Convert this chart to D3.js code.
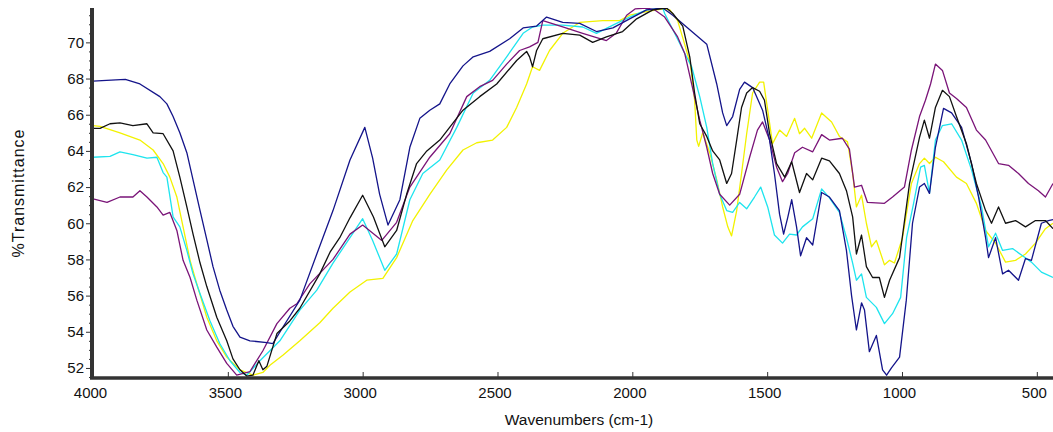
<!DOCTYPE html>
<html>
<head>
<meta charset="utf-8">
<script src="https://cdn.jsdelivr.net/npm/d3@7"></script>
<style>
  body { margin: 0; background: #fff; }
  svg text { font-family: "Liberation Sans", Arial, sans-serif; fill: #111; }
</style>
</head>
<body>
<svg id="chart" width="1053" height="432"></svg>
<script>
// tick labels
var xTicks = [4000, 3500, 3000, 2500, 2000, 1500, 1000, 500]
var yTicks = [52, 54, 56, 58, 60, 62, 64, 66, 68, 70]

// navy spectrum
var navyWn = [4000, 3950, 3880, 3826, 3752, 3726, 3703, 3678, 3652, 3629, 3603, 3578, 3555, 3530, 3504, 3481, 3455, 3418, 3355, 3333, 3296, 3233, 3170, 3110, 3047, 2992, 2963, 2937, 2906, 2862, 2825, 2788, 2751, 2714, 2677, 2628, 2590, 2529, 2455, 2405, 2355, 2318, 2258, 2195, 2133, 2072, 2010, 1947, 1887, 1850, 1787, 1724, 1687, 1665, 1650, 1628, 1602, 1584, 1554, 1517, 1491, 1473, 1454, 1439, 1424, 1409, 1391, 1376, 1354, 1331, 1298, 1269, 1232, 1206, 1187, 1169, 1150, 1139, 1121, 1095, 1072, 1057, 1039, 1009, 984, 961, 935, 917, 898, 876, 846, 816, 779, 742, 716, 690, 679, 653, 627, 605, 568, 542, 520, 483, 457, 440]
var navyT = [67.86, 67.9, 67.95, 67.7, 67.0, 66.6, 65.9, 65.0, 63.9, 62.4, 60.7, 59.1, 57.6, 56.3, 55.2, 54.3, 53.7, 53.5, 53.4, 53.35, 54.25, 55.75, 58.3, 60.7, 63.5, 65.3, 63.6, 61.6, 59.9, 61.3, 64.2, 65.8, 66.25, 66.6, 67.7, 68.7, 69.2, 69.5, 70.2, 70.8, 70.9, 71.4, 71.1, 71.05, 70.6, 70.8, 71.3, 71.8, 71.9, 71.5, 70.7, 69.9, 67.7, 66.1, 65.4, 65.9, 67.4, 67.8, 67.5, 66.25, 64.6, 62.75, 60.5, 59.4, 60.3, 61.3, 59.8, 58.2, 59.2, 58.8, 61.7, 61.45, 60.7, 58.5, 56.0, 54.1, 55.6, 55.2, 52.9, 53.8, 51.9, 51.6, 52.0, 52.6, 55.75, 60.0, 62.0, 62.2, 61.65, 64.2, 66.35, 66.1, 65.3, 63.3, 61.45, 59.2, 58.1, 59.2, 57.2, 57.4, 56.85, 58.05, 57.95, 60.0, 60.15, 60.2]

// black spectrum
var blackWn = [4000, 3974, 3937, 3900, 3852, 3800, 3777, 3740, 3703, 3678, 3652, 3629, 3603, 3578, 3541, 3504, 3481, 3455, 3430, 3407, 3385, 3370, 3355, 3318, 3270, 3233, 3159, 3121, 3085, 3047, 3000, 2960, 2918, 2874, 2837, 2800, 2762, 2714, 2628, 2566, 2503, 2429, 2392, 2381, 2370, 2355, 2332, 2258, 2195, 2147, 2096, 2036, 1984, 1924, 1873, 1850, 1813, 1787, 1769, 1750, 1724, 1702, 1676, 1650, 1632, 1613, 1595, 1576, 1554, 1528, 1510, 1491, 1465, 1435, 1409, 1380, 1354, 1331, 1298, 1269, 1232, 1206, 1183, 1169, 1150, 1132, 1109, 1084, 1065, 1046, 1009, 972, 935, 917, 898, 876, 850, 824, 798, 761, 724, 690, 668, 642, 616, 579, 542, 505, 468, 440]
var blackT = [65.25, 65.25, 65.5, 65.55, 65.4, 65.5, 65.0, 64.95, 64.0, 62.55, 60.9, 59.4, 57.8, 56.5, 54.8, 53.5, 52.5, 51.9, 51.55, 51.6, 52.4, 51.9, 52.1, 53.9, 54.6, 55.3, 57.2, 58.4, 59.2, 60.3, 61.55, 60.35, 58.7, 59.6, 61.6, 63.3, 64.0, 64.6, 66.25, 67.0, 67.7, 69.0, 69.5, 69.2, 68.65, 69.55, 70.2, 70.5, 70.4, 70.0, 70.3, 70.6, 71.3, 71.8, 71.9, 71.6, 70.9, 69.2, 67.2, 65.5, 64.8, 64.0, 63.5, 62.2, 62.75, 64.6, 66.4, 67.2, 67.5, 67.3, 66.8, 64.95, 63.3, 62.55, 63.4, 61.7, 62.75, 62.4, 63.6, 63.45, 62.75, 61.8, 60.35, 58.3, 59.35, 57.6, 57.0, 57.0, 55.9, 56.85, 58.1, 62.2, 64.75, 65.7, 64.7, 66.4, 67.35, 67.0, 65.9, 64.4, 62.2, 60.7, 60.0, 60.9, 60.0, 60.15, 59.8, 60.15, 60.15, 59.7]

// purple spectrum
var purpleWn = [4000, 3948, 3900, 3852, 3826, 3800, 3763, 3740, 3715, 3689, 3666, 3640, 3615, 3578, 3541, 3504, 3467, 3418, 3370, 3318, 3270, 3244, 3196, 3110, 3047, 3000, 2929, 2874, 2825, 2751, 2677, 2614, 2566, 2518, 2466, 2418, 2381, 2350, 2332, 2258, 2184, 2096, 2060, 2021, 1990, 1947, 1918, 1880, 1832, 1806, 1780, 1750, 1724, 1702, 1676, 1639, 1602, 1565, 1536, 1517, 1491, 1465, 1443, 1424, 1398, 1369, 1331, 1298, 1269, 1221, 1195, 1176, 1150, 1128, 1065, 1035, 991, 965, 935, 913, 894, 876, 850, 824, 798, 761, 724, 690, 642, 605, 568, 531, 494, 468, 440]
var purpleT = [61.35, 61.15, 61.45, 61.45, 61.8, 61.45, 60.9, 60.45, 60.6, 59.6, 57.95, 57.0, 55.75, 54.1, 53.15, 52.25, 51.6, 51.8, 52.95, 54.45, 55.3, 55.55, 56.65, 58.0, 59.4, 59.9, 59.05, 60.05, 62.0, 63.65, 64.95, 67.0, 67.55, 67.9, 68.8, 69.55, 69.75, 70.0, 71.2, 70.85, 70.5, 70.1, 70.5, 71.5, 71.85, 71.9, 71.8, 71.4, 70.3, 69.4, 67.7, 65.7, 64.2, 62.75, 61.6, 61.0, 61.6, 63.65, 65.15, 65.6, 64.6, 63.1, 62.3, 62.75, 63.9, 64.2, 63.95, 64.9, 64.6, 64.7, 64.1, 62.0, 62.1, 61.15, 61.1, 61.45, 62.0, 64.05, 65.9, 66.8, 67.7, 68.8, 68.45, 67.2, 66.9, 66.4, 65.15, 64.6, 63.3, 63.2, 62.75, 62.2, 61.8, 61.45, 62.2]

// cyan spectrum
var cyanWn = [4000, 3937, 3900, 3852, 3800, 3763, 3740, 3726, 3703, 3678, 3652, 3629, 3603, 3566, 3530, 3492, 3455, 3430, 3381, 3307, 3233, 3170, 3110, 3047, 3000, 2963, 2918, 2874, 2825, 2777, 2714, 2651, 2590, 2529, 2466, 2405, 2370, 2332, 2258, 2184, 2133, 2072, 2010, 1947, 1887, 1880, 1843, 1806, 1780, 1750, 1724, 1702, 1676, 1650, 1628, 1602, 1576, 1547, 1524, 1498, 1473, 1443, 1417, 1391, 1369, 1331, 1298, 1269, 1232, 1206, 1183, 1169, 1150, 1132, 1095, 1065, 1035, 1005, 983, 957, 931, 917, 898, 876, 850, 816, 779, 742, 705, 679, 653, 627, 590, 553, 520, 483, 440]
var cyanT = [63.65, 63.7, 63.95, 63.8, 63.6, 63.65, 62.8, 62.55, 60.35, 59.8, 58.5, 57.2, 56.1, 54.6, 53.35, 52.4, 51.75, 51.6, 52.4, 53.5, 55.2, 56.3, 57.8, 59.2, 60.25, 59.05, 57.4, 58.3, 61.3, 62.75, 63.5, 65.3, 67.2, 67.9, 69.2, 70.5, 70.85, 70.95, 70.95, 70.85, 70.5, 70.95, 71.4, 71.8, 71.9, 71.6, 70.5, 69.4, 68.65, 67.0, 65.3, 63.3, 61.6, 60.7, 60.6, 61.15, 60.8, 61.45, 62.0, 60.9, 59.35, 58.9, 59.4, 59.35, 59.8, 60.25, 61.9, 61.4, 60.6, 59.2, 57.8, 56.85, 57.2, 55.9, 55.35, 54.45, 55.0, 55.9, 59.2, 61.1, 63.1, 63.2, 61.65, 64.6, 65.4, 65.5, 64.6, 62.95, 60.9, 58.7, 59.45, 58.5, 58.6, 58.2, 57.85, 57.3, 57.0]

// yellow spectrum
var yellowWn = [4000, 3974, 3900, 3826, 3777, 3740, 3715, 3689, 3666, 3640, 3615, 3578, 3541, 3504, 3455, 3407, 3370, 3344, 3296, 3233, 3159, 3110, 3047, 2985, 2925, 2874, 2814, 2751, 2688, 2628, 2577, 2518, 2466, 2429, 2392, 2370, 2344, 2307, 2258, 2195, 2110, 2047, 2010, 1947, 1887, 1861, 1832, 1806, 1784, 1769, 1761, 1754, 1739, 1713, 1687, 1665, 1646, 1632, 1613, 1595, 1576, 1554, 1528, 1513, 1498, 1480, 1454, 1428, 1398, 1380, 1361, 1335, 1298, 1261, 1232, 1202, 1183, 1169, 1150, 1132, 1113, 1095, 1065, 1046, 1028, 998, 965, 935, 917, 898, 876, 846, 798, 761, 724, 690, 653, 616, 579, 542, 505, 468, 440]
var yellowT = [65.4, 65.35, 65.0, 64.6, 64.05, 63.3, 62.55, 61.45, 59.8, 57.95, 56.65, 54.8, 53.5, 52.6, 51.9, 51.6, 51.75, 52.15, 52.7, 53.5, 54.5, 55.3, 56.2, 56.85, 56.95, 58.1, 60.15, 61.6, 62.95, 64.05, 64.45, 64.6, 65.3, 66.4, 67.7, 68.65, 68.45, 69.55, 70.5, 71.1, 71.2, 71.2, 71.5, 71.7, 71.85, 71.8, 71.2, 69.9, 68.75, 66.8, 64.6, 64.25, 65.0, 63.9, 62.4, 60.9, 59.8, 59.3, 60.7, 62.75, 64.95, 67.2, 67.8, 67.8, 66.25, 64.4, 65.15, 64.8, 65.8, 64.95, 65.25, 64.7, 66.1, 65.6, 64.8, 64.5, 62.75, 60.9, 61.55, 60.0, 58.7, 59.05, 57.7, 57.95, 57.8, 59.2, 62.2, 63.3, 63.6, 63.3, 63.65, 63.4, 62.55, 62.2, 61.1, 59.6, 58.9, 57.85, 57.95, 58.3, 58.9, 59.7, 60.0]

var series = [
    { name: 'yellow', color: '#f2f200', wn: yellowWn, t: yellowT },
    { name: 'cyan', color: '#1ee4ee', wn: cyanWn, t: cyanT },
    { name: 'purple', color: '#7a1478', wn: purpleWn, t: purpleT },
    { name: 'navy', color: '#14148a', wn: navyWn, t: navyT },
    { name: 'black', color: '#111111', wn: blackWn, t: blackT }
]

var plotLeft = 93, plotRight = 1053, plotTop = 8, plotBottom = 377

const svg = d3.select('#chart')

var x = d3.scaleLinear().domain([4000, 440]).range([plotLeft, plotRight])
var y = d3.scaleLinear().domain([51.5, 71.9]).range([plotBottom, plotTop])

svg.append('clipPath')
    .attr('id', 'plotclip')
    .append('rect')
    .attr('x', plotLeft)
    .attr('y', plotTop)
    .attr('width', plotRight - plotLeft)
    .attr('height', plotBottom - plotTop)

var line = d3.line()
    .x(d => x(d[0]))
    .y(d => y(d[1]))

svg.append('g')
    .attr('clip-path', 'url(#plotclip)')
    .selectAll('path')
    .data(series)
    .enter()
    .append('path')
    .attr('fill', 'none')
    .attr('stroke', d => d.color)
    .attr('stroke-width', 1.3)
    .attr('stroke-linejoin', 'round')
    .attr('d', d => line(d.wn.map((w, i) => [w, d.t[i]])))

// y axis, major + minor ticks outward
var yMinor = d3.range(51.5, 71.9, 0.5).filter(v => yTicks.indexOf(v) < 0)

svg.append('g')
    .attr('transform', 'translate(' + (plotLeft - 1) + ',0)')
    .call(d3.axisLeft(y).tickValues(yMinor).tickSize(3).tickFormat(''))
    .call(g => g.select('.domain').remove())
    .call(g => g.selectAll('line').attr('stroke', '#333'))

svg.append('g')
    .attr('transform', 'translate(' + (plotLeft - 1) + ',0)')
    .call(d3.axisLeft(y).tickValues(yTicks).tickSize(6).tickPadding(2))
    .call(g => g.select('.domain').remove())
    .call(g => g.selectAll('line').attr('stroke', '#333'))
    .call(g => g.selectAll('text').attr('font-size', 15).style('fill', '#111'))

// x axis, ticks inward
svg.append('g')
    .attr('transform', 'translate(0,' + plotBottom + ')')
    .call(d3.axisBottom(x).tickValues(xTicks).tickSize(-5).tickPadding(0).tickFormat(d3.format('d')))
    .call(g => g.select('.domain').remove())
    .call(g => g.selectAll('line').attr('stroke', '#333'))
    .call(g => g.selectAll('text')
        .attr('font-size', 15)
        .attr('dy', null)
        .attr('y', 21)
        .attr('x', -3)
        .style('fill', '#111'))

// thick axis lines
svg.append('line')
    .attr('x1', plotLeft - 1).attr('x2', plotLeft - 1)
    .attr('y1', plotTop).attr('y2', plotBottom + 2)
    .attr('stroke', '#333').attr('stroke-width', 4)

svg.append('line')
    .attr('x1', plotLeft - 3).attr('x2', plotRight)
    .attr('y1', plotBottom + 1).attr('y2', plotBottom + 1)
    .attr('stroke', '#333').attr('stroke-width', 3.5)

svg.append('text')
    .attr('x', 579)
    .attr('y', 425)
    .attr('text-anchor', 'middle')
    .attr('font-size', 15.5)
    .text('Wavenumbers (cm-1)')

svg.append('text')
    .attr('transform', 'translate(24,193) rotate(-90)')
    .attr('text-anchor', 'middle')
    .attr('font-size', 16)
    .attr('letter-spacing', 1)
    .text('%Transmittance')
</script>
</body>
</html>
